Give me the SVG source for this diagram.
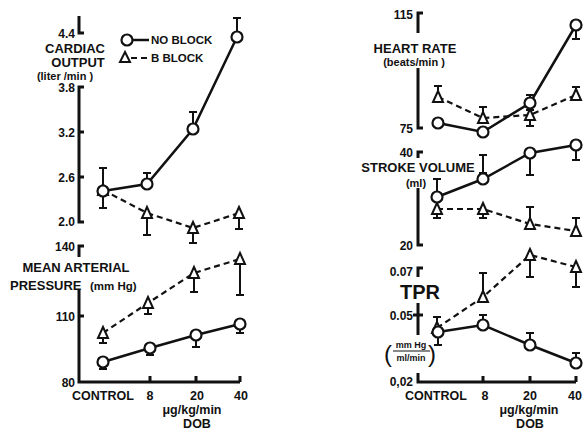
<svg xmlns="http://www.w3.org/2000/svg" width="584" height="432" viewBox="0 0 584 432">
<style>
text{font-family:"Liberation Sans",Arial,sans-serif;font-weight:bold;fill:#111}
.ax{stroke:#111;stroke-width:3;fill:none}
.s{stroke:#111;stroke-width:2.5;fill:none}
.d{stroke:#111;stroke-width:2.2;fill:none;stroke-dasharray:6 4}
.e{stroke:#111;stroke-width:2;fill:none}
.c{stroke:#111;stroke-width:2.2;fill:#fff}
.t{stroke:#111;stroke-width:2;fill:#fff}
.tk{font-size:12px;text-anchor:end}
.lb{font-size:13px;text-anchor:middle}
.un{font-size:11px;text-anchor:middle}
.xl{font-size:12.5px;text-anchor:middle}
</style>
<defs>
<circle id="o" r="5.5" class="c"/>
<path id="tri" d="M0,-6 L5,5 L-5,5 Z" class="t"/>
</defs>
<rect width="584" height="432" fill="#fff"/>

<g id="axes">
<path class="ax" d="M79,16 V33 H84"/>
<path class="ax" d="M84,87 H79 V222 H84 M79,132 H84 M79,177 H84"/>
<path class="ax" d="M84,246 H79 V257"/>
<path class="ax" d="M79,290 V382 H240 M79,316 H84 M150,382 V376 M196,382 V376 M240,382 V376"/>
<path class="ax" d="M423,13 H418 V33"/>
<path class="ax" d="M418,68 V128 H423"/>
<path class="ax" d="M423,152 H418 V158"/>
<path class="ax" d="M418,188 V245 H423"/>
<path class="ax" d="M423,268 H418 V277"/>
<path class="ax" d="M418,303 V335 M413,315 H423"/>
<path class="ax" d="M418,373 V382 H576 M483,382 V376 M530,382 V376 M576,382 V376"/>
</g>

<g id="axis-labels">
<text class="tk" x="75" y="38">4.4</text>
<text class="tk" x="75" y="92">3.8</text>
<text class="tk" x="75" y="137">3.2</text>
<text class="tk" x="75" y="182">2.6</text>
<text class="tk" x="75" y="226">2.0</text>
<text class="tk" x="75" y="251">140</text>
<text class="tk" x="75" y="321">110</text>
<text class="tk" x="75" y="387">80</text>
<text class="lb" x="75" y="53">CARDIAC</text>
<text class="lb" x="78" y="67">OUTPUT</text>
<text class="un" x="65" y="80">(liter /min )</text>
<text class="lb" x="76" y="272">MEAN ARTERIAL</text>
<text x="10" y="290" style="font-size:13px">PRESSURE</text>
<text x="90" y="290" style="font-size:11.5px">(mm Hg)</text>

<text class="tk" x="413" y="19">115</text>
<text class="tk" x="413" y="133">75</text>
<text class="tk" x="413" y="157">40</text>
<text class="tk" x="413" y="250">20</text>
<text class="tk" x="413" y="276">0.07</text>
<text class="tk" x="413" y="320">0.05</text>
<text class="tk" x="413" y="386">0,02</text>
<text class="lb" x="415" y="53">HEART RATE</text>
<text class="un" x="414" y="66">(beats/min )</text>
<text class="lb" x="418" y="172">STROKE VOLUME</text>
<text class="un" x="416" y="187">(ml)</text>
<text x="400" y="299" style="font-size:20px">TPR</text>
<text x="384" y="362" style="font-size:24px;font-weight:normal">(</text>
<text x="428" y="362" style="font-size:24px;font-weight:normal">)</text>
<text x="411" y="348" style="font-size:9px;text-anchor:middle">mm Hg</text>
<line x1="393" y1="351" x2="430" y2="351" stroke="#111" stroke-width="1.2"/>
<text x="411" y="361" style="font-size:9px;text-anchor:middle">ml/min</text>

<text class="xl" x="103" y="400">CONTROL</text>
<text class="xl" x="150" y="400">8</text>
<text class="xl" x="197" y="400">20</text>
<text class="xl" x="241" y="400">40</text>
<text class="xl" x="192" y="414">μg/kg/min</text>
<text class="xl" x="197" y="428">DOB</text>
<text class="xl" x="436" y="400">CONTROL</text>
<text class="xl" x="485" y="400">8</text>
<text class="xl" x="530" y="400">20</text>
<text class="xl" x="575" y="400">40</text>
<text class="xl" x="529" y="414">μg/kg/min</text>
<text class="xl" x="530" y="428">DOB</text>
</g>

<g id="legend">
<line x1="132" y1="40" x2="149" y2="40" class="s" stroke-width="2"/>
<use href="#o" x="127" y="40"/>
<text x="151" y="44" style="font-size:11.5px">NO BLOCK</text>
<line x1="131" y1="58" x2="149" y2="58" class="d" stroke-width="2" stroke-dasharray="4 3"/>
<path d="M125,52 L130,62 L120,62 Z" class="t"/>
<text x="151" y="62" style="font-size:11.5px">B BLOCK</text>
</g>

<g id="connectors">
<polyline class="s" points="103,191 147,184 193,129 237,37"/>
<polyline class="d" points="103,190 147,213 193,228 239,213"/>
<polyline class="s" points="103,362 150,348 196,335 240,324"/>
<polyline class="d" points="103,333 148,303 194,273 240,259"/>
<polyline class="s" points="438,123 483,132 530,103 576,25"/>
<polyline class="d" points="438,97 483,118 530,115 576,95"/>
<polyline class="s" points="437,197 483,179 530,153 576,145"/>
<polyline class="d" points="437,209 483,209 530,224 576,231"/>
<polyline class="s" points="438,332 483,325 530,345 576,363"/>
<polyline class="d" points="437,328 483,297 530,255 576,267"/>
</g>

<g id="error-bars">
<path class="e" d="M103,168 V208 M99,168 H107 M99,208 H107"/>
<path class="e" d="M147,178 V173 M143,173 H151"/>
<path class="e" d="M193,123 V112 M189,112 H197"/>
<path class="e" d="M237,31 V18 M233,18 H241"/>
<path class="e" d="M147,219 V235 M143,235 H151"/>
<path class="e" d="M193,233 V243 M189,243 H197"/>
<path class="e" d="M239,218 V229 M235,229 H243"/>
<path class="e" d="M103,367 V369 M99,369 H107"/>
<path class="e" d="M150,353 V355 M146,355 H154"/>
<path class="e" d="M196,340 V347 M192,347 H200"/>
<path class="e" d="M240,329 V333 M236,333 H244"/>
<path class="e" d="M103,338 V343 M99,343 H107"/>
<path class="e" d="M148,308 V314 M144,314 H152"/>
<path class="e" d="M194,278 V292 M190,292 H198"/>
<path class="e" d="M240,264 V295 M236,295 H244"/>
<path class="e" d="M576,30 V39 M572,39 H580"/>
<path class="e" d="M530,98 V95 M526,95 H534"/>
<path class="e" d="M438,92 V86 M434,86 H442"/>
<path class="e" d="M483,113 V107 M479,107 H487"/>
<path class="e" d="M530,110 V126 M526,110 H534 M526,126 H534"/>
<path class="e" d="M576,90 V87 M572,87 H580"/>
<path class="e" d="M437,191 V179 M433,179 H441"/>
<path class="e" d="M483,155 V173 M479,155 H487 M479,173 H487"/>
<path class="e" d="M530,159 V175 M526,175 H534"/>
<path class="e" d="M576,151 V160 M572,160 H580"/>
<path class="e" d="M437,214 V218 M433,218 H441"/>
<path class="e" d="M483,214 V218 M479,218 H487"/>
<path class="e" d="M530,219 V207 M526,207 H534"/>
<path class="e" d="M576,226 V218 M572,218 H580"/>
<path class="e" d="M438,338 V345 M434,345 H442"/>
<path class="e" d="M483,320 V315 M479,315 H487"/>
<path class="e" d="M530,340 V333 M526,333 H534"/>
<path class="e" d="M576,358 V353 M572,353 H580"/>
<path class="e" d="M437,323 V317 M433,317 H441"/>
<path class="e" d="M483,292 V273 M479,273 H487"/>
<path class="e" d="M530,260 V277 M526,277 H534"/>
<path class="e" d="M576,272 V287 M572,287 H580"/>
</g>

<g id="points">
<use href="#tri" x="103" y="190"/>
<use href="#tri" x="147" y="213"/>
<use href="#tri" x="193" y="228"/>
<use href="#tri" x="239" y="213"/>
<use href="#o" x="103" y="191"/>
<use href="#o" x="147" y="184"/>
<use href="#o" x="193" y="129"/>
<use href="#o" x="237" y="37"/>
<use href="#tri" x="103" y="333"/>
<use href="#tri" x="148" y="303"/>
<use href="#tri" x="194" y="273"/>
<use href="#tri" x="240" y="259"/>
<use href="#o" x="103" y="362"/>
<use href="#o" x="150" y="348"/>
<use href="#o" x="196" y="335"/>
<use href="#o" x="240" y="324"/>
<use href="#tri" x="438" y="97"/>
<use href="#tri" x="483" y="118"/>
<use href="#tri" x="530" y="115"/>
<use href="#tri" x="576" y="95"/>
<use href="#o" x="438" y="123"/>
<use href="#o" x="483" y="132"/>
<use href="#o" x="530" y="103"/>
<use href="#o" x="576" y="25"/>
<use href="#tri" x="437" y="209"/>
<use href="#tri" x="483" y="209"/>
<use href="#tri" x="530" y="224"/>
<use href="#tri" x="576" y="231"/>
<use href="#o" x="437" y="197"/>
<use href="#o" x="483" y="179"/>
<use href="#o" x="530" y="153"/>
<use href="#o" x="576" y="145"/>
<use href="#tri" x="437" y="328"/>
<use href="#tri" x="483" y="297"/>
<use href="#tri" x="530" y="255"/>
<use href="#tri" x="576" y="267"/>
<use href="#o" x="438" y="332"/>
<use href="#o" x="483" y="325"/>
<use href="#o" x="530" y="345"/>
<use href="#o" x="576" y="363"/>
</g>
</svg>
